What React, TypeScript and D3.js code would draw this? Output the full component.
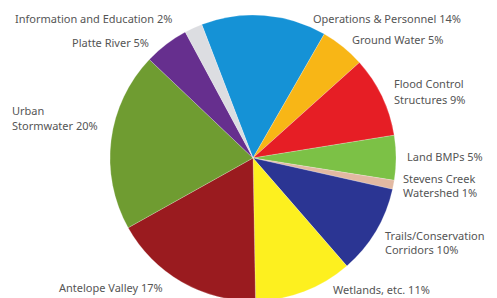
import React, { useEffect, useRef } from 'react';
import * as d3 from 'd3';

// slices in clockwise order, starting with Operations & Personnel
const categories = [
  'Operations & Personnel',
  'Ground Water',
  'Flood Control Structures',
  'Land BMPs',
  'Stevens Creek Watershed',
  'Trails/Conservation Corridors',
  'Wetlands, etc.',
  'Antelope Valley',
  'Urban Stormwater',
  'Platte River',
  'Information and Education',
];
const shares = [14, 5, 9, 5, 1, 10, 11, 17, 20, 5, 2];
const labelLines = [
  ['Operations & Personnel 14%'],
  ['Ground Water 5%'],
  ['Flood Control', 'Structures 9%'],
  ['Land BMPs 5%'],
  ['Stevens Creek', 'Watershed 1%'],
  ['Trails/Conservation', 'Corridors 10%'],
  ['Wetlands, etc. 11%'],
  ['Antelope Valley 17%'],
  ['Urban', 'Stormwater 20%'],
  ['Platte River 5%'],
  ['Information and Education 2%'],
];
const colors = [
  '#1592d6', '#f8b616', '#e61e25', '#7cc146', '#e2b9a2', '#2b3593',
  '#fdf01f', '#9a1b1f', '#6f9c31', '#662f8e', '#dcdde1',
];
// label anchor points (left x, first baseline y, line gap)
const labelPos: [number, number, number][] = [
  [313, 23, 0], [352, 44, 0], [394, 88, 16], [407, 161, 0], [403, 183, 13.5],
  [385, 240, 14], [333, 294, 0], [59, 292, 0], [12, 115, 15], [72, 47, 0], [15, 23, 0],
];

export default function App() {
  const ref = useRef<SVGSVGElement>(null);

  useEffect(() => {
    const svg = d3.select(ref.current);
    svg.selectAll('*').remove();
    const cx = 253, cy = 158, r = 143;
    const start = (-21 * Math.PI) / 180;

    const pie = d3.pie<number>().sort(null).value(d => d)
      .startAngle(start).endAngle(start + 2 * Math.PI);
    const arc = d3.arc<d3.PieArcDatum<number>>().innerRadius(0).outerRadius(r);

    const g = svg.append('g').attr('transform', `translate(${cx},${cy})`);
    g.selectAll('path')
      .data(pie(shares))
      .enter()
      .append('path')
      .attr('d', arc)
      .attr('fill', (d, i) => colors[i])
      .attr('stroke', 'rgba(255,255,255,0.35)')
      .attr('stroke-width', 0.6)
      .append('title')
      .text((d, i) => categories[i]);

    const labels = svg.append('g')
      .attr('font-family', '"Noto Sans", sans-serif')
      .attr('font-size', 11)
      .attr('fill', '#555');
    labelLines.forEach((lines, i) => {
      const [x, y, gap] = labelPos[i];
      const t = labels.append('text').attr('x', x).attr('y', y);
      lines.forEach((line, j) => {
        t.append('tspan')
          .attr('x', x)
          .attr('dy', j === 0 ? 0 : gap)
          .text(line);
      });
    });
  }, []);

  return (
    <svg ref={ref} width={497} height={298}
      style={{ position: 'absolute', left: 0, top: 0, background: '#fff' }} />
  );
}
